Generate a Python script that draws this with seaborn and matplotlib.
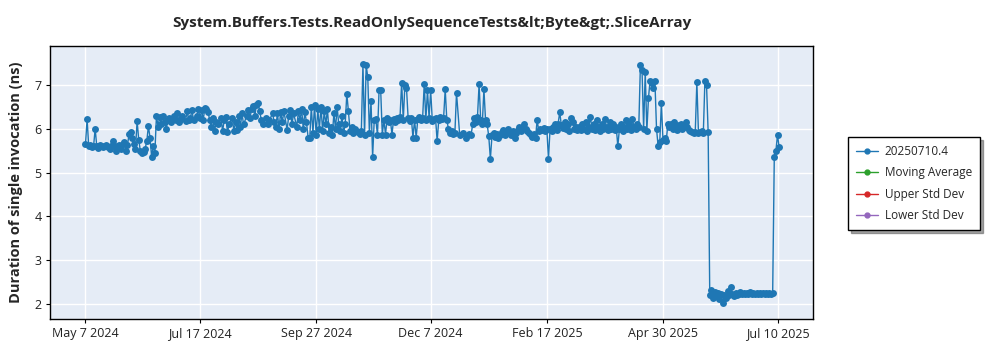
import matplotlib
matplotlib.use("Agg")
import matplotlib.pyplot as plt
from matplotlib.lines import Line2D
import seaborn as sns
import pandas as pd

title = "System.Buffers.Tests.ReadOnlySequenceTests&lt;Byte&gt;.SliceArray"
y_label = "Duration of single invocation (ns)"
series_name = "20250710.4"
legend_extra = ["Moving Average", "Upper Std Dev", "Lower Std Dev"]
legend_extra_colors = ["#2ca02c", "#d62728", "#9467bd"]

tick_dates = ["2024-05-07", "2024-07-17", "2024-09-27", "2024-12-07",
              "2025-02-17", "2025-04-30", "2025-07-10"]
tick_labels = ["May 7 2024", "Jul 17 2024", "Sep 27 2024", "Dec 7 2024",
               "Feb 17 2025", "Apr 30 2025", "Jul 10 2025"]
y_ticks = [2, 3, 4, 5, 6, 7]

dates = [
    # May 2024
    "2024-05-07", "2024-05-08", "2024-05-09", "2024-05-10", "2024-05-11", "2024-05-12", "2024-05-13",
    "2024-05-14", "2024-05-15", "2024-05-16", "2024-05-17", "2024-05-18", "2024-05-19", "2024-05-20",
    "2024-05-21", "2024-05-22", "2024-05-23", "2024-05-24", "2024-05-25", "2024-05-26", "2024-05-27",
    "2024-05-28", "2024-05-29", "2024-05-30", "2024-05-31",
    # Jun 2024
    "2024-06-01", "2024-06-02", "2024-06-03", "2024-06-04", "2024-06-05", "2024-06-06", "2024-06-07",
    "2024-06-08", "2024-06-09", "2024-06-10", "2024-06-11", "2024-06-12", "2024-06-13", "2024-06-14",
    "2024-06-15", "2024-06-16", "2024-06-17", "2024-06-18", "2024-06-19", "2024-06-20", "2024-06-21",
    "2024-06-22", "2024-06-23", "2024-06-24", "2024-06-25", "2024-06-26", "2024-06-27", "2024-06-28",
    "2024-06-29", "2024-06-30",
    # Jul 2024
    "2024-07-01", "2024-07-02", "2024-07-03", "2024-07-04", "2024-07-05", "2024-07-06", "2024-07-08",
    "2024-07-09", "2024-07-10", "2024-07-11", "2024-07-12", "2024-07-13", "2024-07-15", "2024-07-16",
    "2024-07-17", "2024-07-18", "2024-07-19", "2024-07-20", "2024-07-21", "2024-07-22", "2024-07-23",
    "2024-07-24", "2024-07-25", "2024-07-26", "2024-07-27", "2024-07-28", "2024-07-30", "2024-07-31",
    # Aug 2024
    "2024-08-01", "2024-08-02", "2024-08-03", "2024-08-04", "2024-08-06", "2024-08-07", "2024-08-08",
    "2024-08-09", "2024-08-10", "2024-08-11", "2024-08-12", "2024-08-13", "2024-08-15", "2024-08-16",
    "2024-08-17", "2024-08-18", "2024-08-19", "2024-08-20", "2024-08-21", "2024-08-22", "2024-08-23",
    "2024-08-24", "2024-08-25", "2024-08-27", "2024-08-28", "2024-08-29", "2024-08-31",
    # Sep 2024
    "2024-09-01", "2024-09-02", "2024-09-03", "2024-09-04", "2024-09-05", "2024-09-06", "2024-09-07",
    "2024-09-09", "2024-09-10", "2024-09-11", "2024-09-12", "2024-09-13", "2024-09-15", "2024-09-16",
    "2024-09-17", "2024-09-18", "2024-09-19", "2024-09-20", "2024-09-21", "2024-09-22", "2024-09-23",
    "2024-09-24", "2024-09-25", "2024-09-26", "2024-09-27", "2024-09-28", "2024-09-29", "2024-09-30",
    # Oct 2024
    "2024-10-01", "2024-10-02", "2024-10-03", "2024-10-04", "2024-10-05", "2024-10-06", "2024-10-07",
    "2024-10-08", "2024-10-09", "2024-10-10", "2024-10-11", "2024-10-12", "2024-10-13", "2024-10-14",
    "2024-10-15", "2024-10-16", "2024-10-17", "2024-10-18", "2024-10-19", "2024-10-20", "2024-10-21",
    "2024-10-22", "2024-10-23", "2024-10-24", "2024-10-25", "2024-10-26", "2024-10-27", "2024-10-28",
    "2024-10-29", "2024-10-30", "2024-10-31",
    # Nov 2024
    "2024-11-01", "2024-11-02", "2024-11-03", "2024-11-04", "2024-11-05", "2024-11-06", "2024-11-07",
    "2024-11-08", "2024-11-09", "2024-11-10", "2024-11-11", "2024-11-12", "2024-11-13", "2024-11-14",
    "2024-11-15", "2024-11-16", "2024-11-17", "2024-11-18", "2024-11-19", "2024-11-20", "2024-11-21",
    "2024-11-22", "2024-11-23", "2024-11-24", "2024-11-25", "2024-11-26", "2024-11-27", "2024-11-28",
    "2024-11-29", "2024-11-30",
    # Dec 2024
    "2024-12-01", "2024-12-02", "2024-12-03", "2024-12-04", "2024-12-05", "2024-12-06", "2024-12-07",
    "2024-12-08", "2024-12-09", "2024-12-10", "2024-12-11", "2024-12-12", "2024-12-13", "2024-12-14",
    "2024-12-15", "2024-12-16", "2024-12-17", "2024-12-18", "2024-12-19", "2024-12-20", "2024-12-21",
    "2024-12-22", "2024-12-23", "2024-12-25", "2024-12-27", "2024-12-29", "2024-12-31",
    # Jan 2025
    "2025-01-01", "2025-01-02", "2025-01-03", "2025-01-04", "2025-01-05", "2025-01-06", "2025-01-07",
    "2025-01-08", "2025-01-09", "2025-01-10", "2025-01-11", "2025-01-12", "2025-01-13", "2025-01-14",
    "2025-01-15", "2025-01-16", "2025-01-17", "2025-01-18", "2025-01-19", "2025-01-20", "2025-01-21",
    "2025-01-22", "2025-01-23", "2025-01-24", "2025-01-25", "2025-01-26", "2025-01-27", "2025-01-28",
    "2025-01-29", "2025-01-30", "2025-01-31",
    # Feb 2025
    "2025-02-01", "2025-02-02", "2025-02-03", "2025-02-04", "2025-02-05", "2025-02-06", "2025-02-07",
    "2025-02-08", "2025-02-09", "2025-02-10", "2025-02-11", "2025-02-12", "2025-02-13", "2025-02-14",
    "2025-02-15", "2025-02-16", "2025-02-17", "2025-02-18", "2025-02-19", "2025-02-20", "2025-02-21",
    "2025-02-22", "2025-02-23", "2025-02-24", "2025-02-25", "2025-02-26", "2025-02-27", "2025-02-28",
    # Mar 2025
    "2025-03-01", "2025-03-02", "2025-03-03", "2025-03-04", "2025-03-05", "2025-03-06", "2025-03-07",
    "2025-03-08", "2025-03-09", "2025-03-10", "2025-03-11", "2025-03-12", "2025-03-13", "2025-03-14",
    "2025-03-15", "2025-03-16", "2025-03-17", "2025-03-18", "2025-03-19", "2025-03-20", "2025-03-21",
    "2025-03-22", "2025-03-23", "2025-03-24", "2025-03-25", "2025-03-26", "2025-03-27", "2025-03-28",
    "2025-03-29", "2025-03-30", "2025-03-31",
    # Apr 2025
    "2025-04-01", "2025-04-02", "2025-04-03", "2025-04-04", "2025-04-05", "2025-04-06", "2025-04-07",
    "2025-04-08", "2025-04-09", "2025-04-10", "2025-04-11", "2025-04-12", "2025-04-13", "2025-04-14",
    "2025-04-15", "2025-04-16", "2025-04-17", "2025-04-18", "2025-04-19", "2025-04-20", "2025-04-21",
    "2025-04-22", "2025-04-23", "2025-04-24", "2025-04-25", "2025-04-26", "2025-04-27", "2025-04-28",
    "2025-04-29", "2025-04-30",
    # May 2025
    "2025-05-01", "2025-05-02", "2025-05-03", "2025-05-04", "2025-05-05", "2025-05-06", "2025-05-07",
    "2025-05-08", "2025-05-09", "2025-05-10", "2025-05-11", "2025-05-12", "2025-05-13", "2025-05-14",
    "2025-05-15", "2025-05-16", "2025-05-17", "2025-05-18", "2025-05-19", "2025-05-20", "2025-05-21",
    "2025-05-22", "2025-05-23", "2025-05-24", "2025-05-25", "2025-05-26", "2025-05-27", "2025-05-28",
    "2025-05-29", "2025-05-30", "2025-05-31",
    # Jun 2025
    "2025-06-01", "2025-06-02", "2025-06-03", "2025-06-04", "2025-06-05", "2025-06-06", "2025-06-07",
    "2025-06-08", "2025-06-09", "2025-06-10", "2025-06-11", "2025-06-12", "2025-06-13", "2025-06-14",
    "2025-06-15", "2025-06-16", "2025-06-17", "2025-06-18", "2025-06-19", "2025-06-20", "2025-06-21",
    "2025-06-22", "2025-06-23", "2025-06-24", "2025-06-25", "2025-06-26", "2025-06-27", "2025-06-28",
    "2025-06-29", "2025-06-30",
    # Jul 2025
    "2025-07-01", "2025-07-02", "2025-07-03", "2025-07-04", "2025-07-05", "2025-07-06", "2025-07-07",
    "2025-07-08", "2025-07-09", "2025-07-10", "2025-07-11",
]

values = [
    # May 2024
    5.65, 6.22, 5.60, 5.62, 5.58, 5.60, 6.00,
    5.60, 5.57, 5.62, 5.60, 5.58, 5.60, 5.62,
    5.58, 5.55, 5.60, 5.72, 5.60, 5.50, 5.58,
    5.62, 5.55, 5.65, 5.70,
    # Jun 2024
    5.50, 5.62, 5.88, 5.92, 5.80, 5.65, 5.55,
    6.18, 5.75, 5.50, 5.45, 5.48, 5.55, 5.72,
    6.06, 5.80, 5.36, 5.60, 5.45, 6.30, 6.05,
    6.28, 6.10, 6.30, 6.15, 6.00, 6.20, 6.25,
    6.15, 6.22,
    # Jul 2024
    6.30, 6.20, 6.35, 6.15, 6.22, 6.30, 6.18,
    6.40, 6.20, 6.25, 6.42, 6.20, 6.30, 6.45,
    6.25, 6.42, 6.20, 6.48, 6.45, 6.38, 6.20,
    6.05, 6.25, 5.95, 6.15, 6.10, 6.25, 5.95,
    # Aug 2024
    6.20, 6.28, 5.92, 6.10, 6.25, 5.95, 6.15,
    5.98, 6.30, 6.05, 6.35, 6.10, 6.30, 6.42,
    6.25, 6.45, 6.52, 6.30, 6.55, 6.60, 6.40,
    6.20, 6.12, 6.25, 6.10, 6.20, 6.35,
    # Sep 2024
    6.15, 6.05, 6.35, 6.00, 6.38, 6.15, 6.40,
    5.98, 6.30, 6.42, 6.10, 6.35, 6.05, 6.40,
    6.20, 6.45, 6.00, 6.38, 6.15, 5.80, 5.78,
    6.50, 5.90, 6.55, 5.85, 6.45, 6.00, 6.50,
    # Oct 2024
    5.95, 6.40, 6.10, 6.45, 5.90, 6.05, 5.85,
    6.35, 6.00, 6.50, 6.10, 5.95, 6.30, 5.90,
    6.10, 6.80, 6.40, 5.95, 6.05, 5.90, 6.00,
    5.95, 5.92, 5.88, 5.95, 7.48, 5.85, 7.45,
    7.18, 5.90, 6.63,
    # Nov 2024
    5.36, 6.20, 6.22, 5.85, 6.89, 6.88, 5.87,
    6.20, 5.87, 6.25, 6.15, 6.20, 5.87, 6.22,
    6.15, 6.25, 6.20, 6.28, 7.05, 6.20, 7.00,
    6.93, 6.25, 6.18, 6.25, 5.80, 6.20, 5.80,
    6.22, 6.27,
    # Dec 2024
    6.20, 6.25, 7.03, 6.20, 6.88, 6.25, 6.88,
    6.18, 6.22, 6.25, 5.72, 6.20, 6.27, 6.22,
    6.25, 6.90, 6.20, 6.00, 5.90, 5.95, 5.88,
    5.90, 6.82, 5.85, 5.90, 5.80, 5.88,
    # Jan 2025
    5.85, 6.10, 6.25, 6.15, 6.27, 7.02, 6.20,
    6.12, 6.90, 6.20, 6.10, 5.83, 5.31, 5.85,
    5.90, 5.82, 5.88, 5.80, 5.85, 5.92, 5.98,
    5.85, 5.95, 6.00, 5.90, 5.85, 5.95, 5.80,
    5.90, 5.98, 6.05,
    # Feb 2025
    5.95, 6.05, 6.10, 6.00, 5.95, 5.90, 5.85,
    5.82, 5.88, 5.80, 6.20, 5.95, 6.00, 5.98,
    6.02, 5.95, 6.00, 5.31, 6.00, 5.95, 6.05,
    6.10, 5.98, 6.12, 6.38, 6.08, 6.02, 6.15,
    # Mar 2025
    6.00, 6.10, 5.95, 6.25, 6.15, 6.00, 6.05,
    5.98, 6.05, 5.98, 6.10, 6.00, 6.15, 5.95,
    6.05, 6.27, 6.00, 6.10, 5.98, 6.20, 6.05,
    5.95, 6.10, 6.00, 6.22, 6.05, 5.98, 6.15,
    6.00, 6.10, 5.98,
    # Apr 2025
    6.05, 5.60, 6.00, 6.12, 5.95, 6.05, 6.20,
    6.00, 6.10, 5.98, 6.22, 6.05, 6.00, 6.10,
    6.05, 7.45, 7.35, 6.00, 7.30, 5.95, 6.70,
    7.10, 7.05, 6.93, 7.08, 6.00, 5.60, 5.70,
    6.58, 5.75,
    # May 2025
    5.80, 5.72, 6.10, 6.05, 6.12, 6.00, 6.15,
    6.05, 5.98, 6.08, 6.12, 6.00, 6.05, 6.15,
    6.05, 5.98, 5.95, 5.92, 5.90, 5.92, 7.07,
    5.90, 5.92, 5.95, 5.90, 7.10, 7.00, 5.93,
    2.20, 2.32, 2.15,
    # Jun 2025
    2.28, 2.18, 2.25, 2.12, 2.22, 2.03, 2.20,
    2.15, 2.30, 2.20, 2.40, 2.22, 2.18, 2.25,
    2.20, 2.22, 2.28, 2.22, 2.25, 2.22, 2.25,
    2.24, 2.27, 2.24, 2.25, 2.23, 2.26, 2.24,
    2.25, 2.23,
    # Jul 2025
    2.25, 2.24, 2.26, 2.23, 2.25, 2.24, 2.26,
    5.36, 5.50, 5.86, 5.58,
]

df = pd.DataFrame({"date": pd.to_datetime(dates), "value": values})

sns.set_theme(style="darkgrid")
plt.rcParams["font.family"] = ["Open Sans", "DejaVu Sans"]

fig = plt.figure(figsize=(10, 3.5), dpi=100)
ax = fig.add_axes([0.05, 0.0886, 0.763, 0.78])
ax.set_facecolor("#E5ECF6")

blue = "#1f77b4"
sns.lineplot(data=df, x="date", y="value", ax=ax, color=blue, linewidth=1,
             marker="o", markersize=5, markeredgewidth=0,
             estimator=None, label=series_name, legend=False)

ax.set_ylim(1.66, 7.89)
ax.set_xlim(pd.Timestamp("2024-04-15"), pd.Timestamp("2025-08-01"))
ax.set_yticks(y_ticks)
ax.set_yticklabels([str(t) for t in y_ticks], fontsize=9)
ax.set_xticks(pd.to_datetime(tick_dates))
ax.set_xticklabels(tick_labels, fontsize=9)
ax.grid(True, color="white", linewidth=1)
ax.tick_params(axis="both", which="major", length=3, width=0.8, color="black",
               direction="out", pad=3, labelcolor="#222222")
ax.tick_params(bottom=True, left=True)
for s in ax.spines.values():
    s.set_visible(True)
    s.set_color("black")
    s.set_linewidth(1)

ax.set_xlabel("")
ax.set_ylabel(y_label, fontsize=10.5, fontweight="bold", labelpad=8)
ax.set_title(title, fontsize=11, fontweight="bold", pad=14)

handles = [Line2D([], [], color=blue, marker="o", markersize=3.5, linewidth=1)]
for c in legend_extra_colors:
    handles.append(Line2D([], [], color=c, marker="o", markersize=3.5, linewidth=1))
labels = [series_name] + legend_extra
leg = fig.legend(handles, labels, loc="upper left", bbox_to_anchor=(0.848, 0.609),
                 borderaxespad=0, fontsize=8.5, frameon=True, fancybox=False,
                 shadow=True, edgecolor="black", borderpad=0.7, labelspacing=0.7,
                 handlelength=1.8, handletextpad=0.6)
leg.get_frame().set_linewidth(1)
leg.get_frame().set_facecolor("white")

fig.savefig("out.png", dpi=100, facecolor="white")
